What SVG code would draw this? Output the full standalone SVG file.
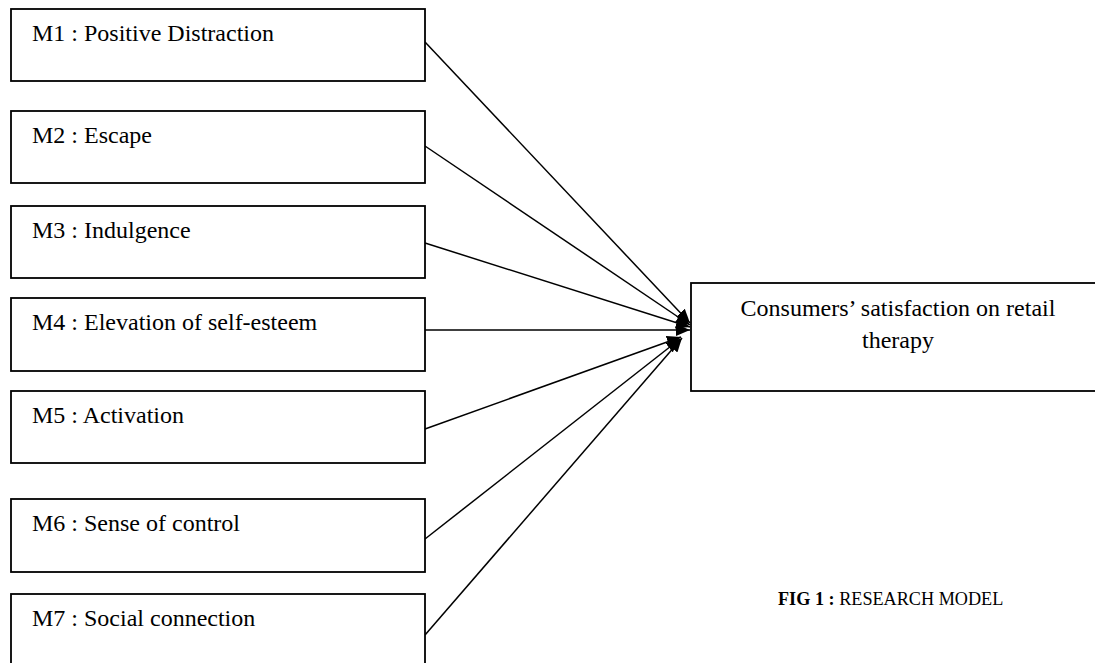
<svg xmlns="http://www.w3.org/2000/svg" width="1095" height="663" viewBox="0 0 1095 663">
  <style>
    .box { fill: #ffffff; stroke: #000000; stroke-width: 1.8; }
    .lbl { font-family: "Liberation Serif", "Times New Roman", serif; font-size: 24px; fill: #000000; }
    .conn { stroke: #000000; stroke-width: 1.5; fill: none; marker-end: url(#arrow); }
    .cap { font-family: "Liberation Serif", "Times New Roman", serif; font-size: 18.2px; fill: #000000; }
  </style>
  <defs>
    <marker id="arrow" markerUnits="userSpaceOnUse" markerWidth="16" markerHeight="12" refX="14" refY="6" orient="auto">
      <path d="M0,0 L14,6 L0,12 Z" fill="#000000"/>
    </marker>
  </defs>
  <rect width="1095" height="663" fill="#ffffff"/>

  <g id="connectors">
    <line class="conn" x1="425" y1="42" x2="690" y2="323"/>
    <line class="conn" x1="425" y1="146" x2="690" y2="325"/>
    <line class="conn" x1="425" y1="243" x2="690" y2="327"/>
    <line class="conn" x1="425" y1="330" x2="690" y2="330"/>
    <line class="conn" x1="425" y1="429" x2="681" y2="337"/>
    <line class="conn" x1="425" y1="539" x2="680" y2="339"/>
    <line class="conn" x1="425" y1="635" x2="682" y2="338"/>
  </g>

  <g id="m1">
    <rect class="box" x="11" y="9" width="414" height="72"/>
    <text class="lbl" x="32" y="41">M1 : Positive Distraction</text>
  </g>
  <g id="m2">
    <rect class="box" x="11" y="111" width="414" height="72"/>
    <text class="lbl" x="32" y="143">M2 : Escape</text>
  </g>
  <g id="m3">
    <rect class="box" x="11" y="206" width="414" height="72"/>
    <text class="lbl" x="32" y="238">M3 : Indulgence</text>
  </g>
  <g id="m4">
    <rect class="box" x="11" y="298" width="414" height="73"/>
    <text class="lbl" x="32" y="330">M4 : Elevation of self-esteem</text>
  </g>
  <g id="m5">
    <rect class="box" x="11" y="391" width="414" height="72"/>
    <text class="lbl" x="32" y="423">M5 : Activation</text>
  </g>
  <g id="m6">
    <rect class="box" x="11" y="499" width="414" height="73"/>
    <text class="lbl" x="32" y="531">M6 : Sense of control</text>
  </g>
  <g id="m7">
    <rect class="box" x="11" y="594" width="414" height="80"/>
    <text class="lbl" x="32" y="626">M7 : Social connection</text>
  </g>

  <g id="target">
    <rect class="box" x="691" y="283" width="420" height="108"/>
    <text class="lbl" x="898" y="316" text-anchor="middle">Consumers’ satisfaction on retail</text>
    <text class="lbl" x="898" y="348" text-anchor="middle">therapy</text>
  </g>

  <g id="caption">
    <text class="cap" x="778" y="605"><tspan font-weight="bold">FIG 1 :</tspan> RESEARCH MODEL</text>
  </g>
</svg>
